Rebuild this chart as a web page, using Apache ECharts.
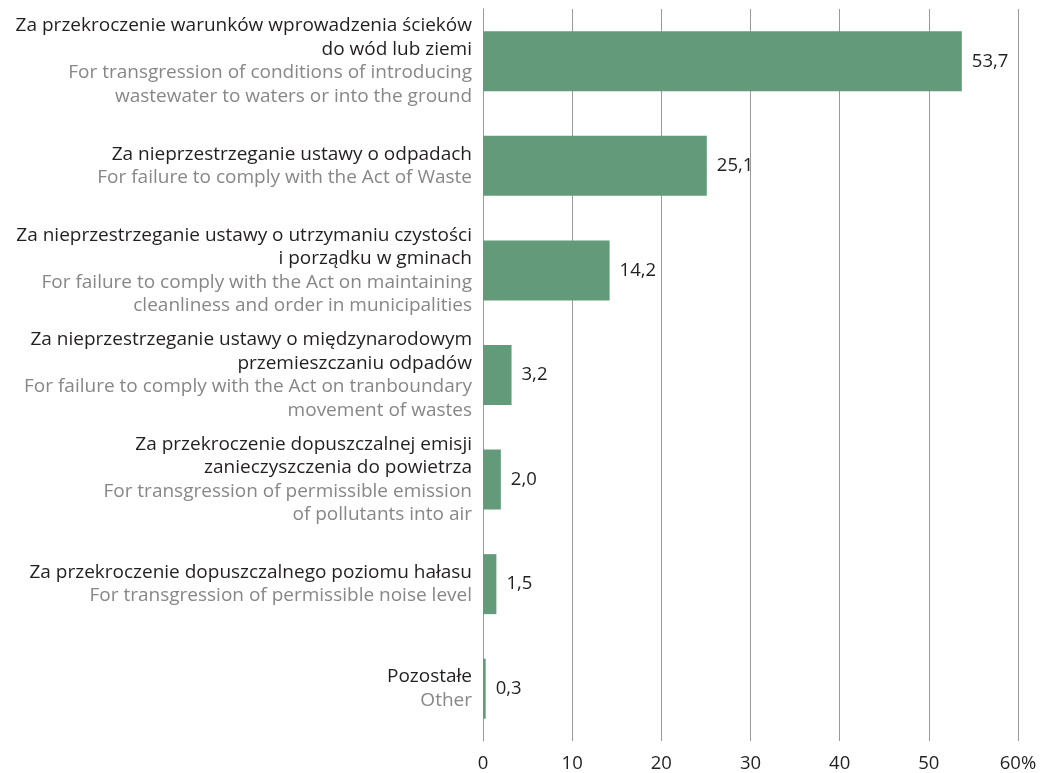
<!DOCTYPE html>
<html><head><meta charset="utf-8">
<script src="https://cdn.jsdelivr.net/npm/echarts@6/dist/echarts.min.js"></script>
<style>html,body{margin:0;padding:0;background:#fff}#c{width:1053px;height:773px}</style>
</head><body><div id="c"></div>
<script>
const labelsPL = [
  ["Za przekroczenie warunków wprowadzenia ścieków", "do wód lub ziemi"],
  ["Za nieprzestrzeganie ustawy o odpadach"],
  ["Za nieprzestrzeganie ustawy o utrzymaniu czystości", "i porządku w gminach"],
  ["Za nieprzestrzeganie ustawy o międzynarodowym", "przemieszczaniu odpadów"],
  ["Za przekroczenie dopuszczalnej emisji", "zanieczyszczenia do powietrza"],
  ["Za przekroczenie dopuszczalnego poziomu hałasu"],
  ["Pozostałe"]
];
const labelsEN = [
  ["For transgression of conditions of introducing", "wastewater to waters or into the ground"],
  ["For failure to comply with the Act of Waste"],
  ["For failure to comply with the Act on maintaining", "cleanliness and order in municipalities"],
  ["For failure to comply with the Act on tranboundary", "movement of wastes"],
  ["For transgression of permissible emission", "of pollutants into air"],
  ["For transgression of permissible noise level"],
  ["Other"]
];
const values = [53.7, 25.1, 14.2, 3.2, 2.0, 1.5, 0.3];
const xTicks = [0, 10, 20, 30, 40, 50, 60];

const cats = labelsPL.map((_, i) => String(i));
const font = "Open Sans";
const chart = echarts.init(document.getElementById('c'), null, {renderer: 'canvas'});
chart.setOption({
  animation: false,
  textStyle: {fontFamily: font},
  grid: {left: 483, right: 35, top: 9, bottom: 31, containLabel: false},
  xAxis: {
    type: 'value', min: 0, max: 60, interval: 10,
    axisLine: {show: false}, axisTick: {show: false},
    splitLine: {show: true, lineStyle: {color: '#9a9a9a', width: 1}},
    axisLabel: {
      color: '#231f20', fontSize: 18.5, fontFamily: font, margin: 13,
      formatter: v => xTicks.includes(v) ? (v === 60 ? '60%' : String(v)) : ''
    }
  },
  yAxis: {
    type: 'category', data: cats, inverse: true,
    axisLine: {show: true, lineStyle: {color: '#9a9a9a', width: 1}},
    axisTick: {show: false},
    axisLabel: {
      margin: 11, align: 'right', verticalAlign: 'middle',
      formatter: (v) => {
        const i = +v;
        const a = labelsPL[i].map(s => '{pl|' + s + '}');
        const b = labelsEN[i].map(s => '{en|' + s + '}');
        return a.concat(b).join('\n');
      },
      rich: {
        pl: {color: '#231f20', fontSize: 19, lineHeight: 23.5, fontFamily: font, align: 'right'},
        en: {color: '#878787', fontSize: 19, lineHeight: 23.5, fontFamily: font, align: 'right'}
      }
    }
  },
  series: [{
    type: 'bar', data: values, barWidth: 60,
    itemStyle: {color: '#639b7a'},
    label: {
      show: true, position: 'right', distance: 10,
      color: '#231f20', fontSize: 18.5, fontFamily: font,
      formatter: p => p.value.toFixed(1).replace('.', ',')
    }
  }]
});
</script></body></html>
